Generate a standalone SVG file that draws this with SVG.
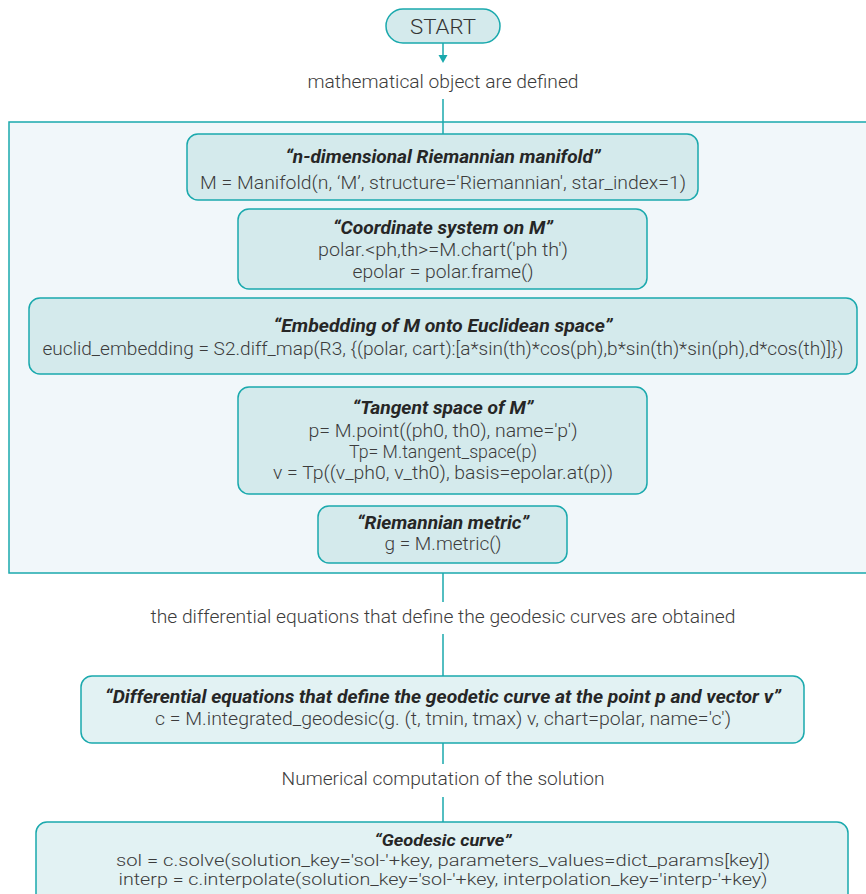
<svg xmlns="http://www.w3.org/2000/svg" width="866" height="894" viewBox="0 0 866 894">
<style>
.box{fill:#d4eaec;stroke:#1aa9ad;stroke-width:1.5}
.lbox{fill:#e2f2f3;stroke:#1aa9ad;stroke-width:1.5}
.cont{fill:#f1f7fa;stroke:#1aa9ad;stroke-width:1.5}
.ln{stroke:#1aa9ad;stroke-width:1.5;fill:none}
text{font-family:Roboto,"Liberation Sans",sans-serif;text-anchor:middle}
.t{font-size:17.5px;font-weight:700;font-style:italic;fill:#262626}
.c{font-size:18.5px;font-weight:300;fill:#3c3c3c}
.cs{font-size:17px;font-weight:300;fill:#3c3c3c}
.lab{font-size:18.5px;font-weight:300;fill:#3c3c3c}
</style>
<rect id="container" class="cont" x="9" y="122" width="870" height="451"/>
<g id="connectors">
<line class="ln" x1="443" y1="43" x2="443" y2="56"/>
<path d="M438.5,55 L447.5,55 L443,63 Z" fill="#1aa9ad"/>
<line class="ln" x1="443" y1="99" x2="443" y2="134"/>
<line class="ln" x1="443" y1="573" x2="443" y2="602"/>
<line class="ln" x1="443" y1="634" x2="443" y2="676"/>
<line class="ln" x1="443" y1="743" x2="443" y2="764"/>
<line class="ln" x1="443" y1="797" x2="443" y2="822"/>
<text class="lab" x="443" y="88" textLength="271" lengthAdjust="spacingAndGlyphs">mathematical object are defined</text>
<text class="lab" x="443" y="623" textLength="585" lengthAdjust="spacingAndGlyphs">the differential equations that define the geodesic curves are obtained</text>
<text class="lab" x="443" y="785" textLength="323" lengthAdjust="spacingAndGlyphs">Numerical computation of the solution</text>
</g>
<g id="start">
<rect class="box" x="386" y="9" width="114" height="34" rx="17"/>
<text x="443" y="34" style="font-size:21px;font-weight:300;fill:#333" textLength="66" lengthAdjust="spacingAndGlyphs">START</text>
</g>
<g id="manifold">
<rect class="box" x="187" y="134" width="511" height="66" rx="11"/>
<text class="t" x="443" y="163" textLength="315" lengthAdjust="spacingAndGlyphs">“n-dimensional Riemannian manifold”</text>
<text class="c" x="443" y="189" textLength="486" lengthAdjust="spacingAndGlyphs">M = Manifold(n, ‘M’, structure='Riemannian', star_index=1)</text>
</g>
<g id="coords">
<rect class="box" x="238" y="209" width="409" height="80" rx="11"/>
<text class="t" x="443" y="234" textLength="220" lengthAdjust="spacingAndGlyphs">“Coordinate system on M”</text>
<text class="c" x="443" y="256" textLength="250" lengthAdjust="spacingAndGlyphs">polar.&lt;ph,th&gt;=M.chart('ph th')</text>
<text class="c" x="443" y="278" textLength="181" lengthAdjust="spacingAndGlyphs">epolar = polar.frame()</text>
</g>
<g id="embedding">
<rect class="box" x="29" y="298" width="828" height="76" rx="11"/>
<text class="t" x="443" y="332" textLength="339" lengthAdjust="spacingAndGlyphs">“Embedding of M onto Euclidean space”</text>
<text class="c" x="443" y="355" textLength="801" lengthAdjust="spacingAndGlyphs">euclid_embedding = S2.diff_map(R3, {(polar, cart):[a*sin(th)*cos(ph),b*sin(th)*sin(ph),d*cos(th)]})</text>
</g>
<g id="tangent">
<rect class="box" x="238" y="387" width="409" height="107" rx="11"/>
<text class="t" x="443" y="414" textLength="181" lengthAdjust="spacingAndGlyphs">“Tangent space of M”</text>
<text class="c" x="443" y="437" textLength="269" lengthAdjust="spacingAndGlyphs">p= M.point((ph0, th0), name='p')</text>
<text class="c" x="443" y="458" textLength="188" lengthAdjust="spacingAndGlyphs">Tp= M.tangent_space(p)</text>
<text class="c" x="443" y="479" textLength="340" lengthAdjust="spacingAndGlyphs">v = Tp((v_ph0, v_th0), basis=epolar.at(p))</text>
</g>
<g id="metric">
<rect class="box" x="318" y="506" width="249" height="57" rx="11"/>
<text class="t" x="443" y="529" textLength="172" lengthAdjust="spacingAndGlyphs">“Riemannian metric”</text>
<text class="c" x="443" y="550" textLength="117" lengthAdjust="spacingAndGlyphs">g = M.metric()</text>
</g>
<g id="diffeq">
<rect class="lbox" x="81" y="676" width="723" height="67" rx="11"/>
<text class="t" x="443" y="703" textLength="676" lengthAdjust="spacingAndGlyphs">“Differential equations that define the geodetic curve at the point p and vector v”</text>
<text class="c" x="443" y="725" textLength="576" lengthAdjust="spacingAndGlyphs">c = M.integrated_geodesic(g. (t, tmin, tmax) v, chart=polar, name='c')</text>
</g>
<g id="geodesic">
<rect class="lbox" x="36" y="822" width="812" height="90" rx="11"/>
<text class="t" x="443" y="846" textLength="137" lengthAdjust="spacingAndGlyphs" style="font-size:16.5px">“Geodesic curve”</text>
<text class="cs" x="443" y="866" textLength="654" lengthAdjust="spacingAndGlyphs">sol = c.solve(solution_key='sol-'+key, parameters_values=dict_params[key])</text>
<text class="cs" x="443" y="885" textLength="649" lengthAdjust="spacingAndGlyphs">interp = c.interpolate(solution_key='sol-'+key, interpolation_key='interp-'+key)</text>
</g>
</svg>
